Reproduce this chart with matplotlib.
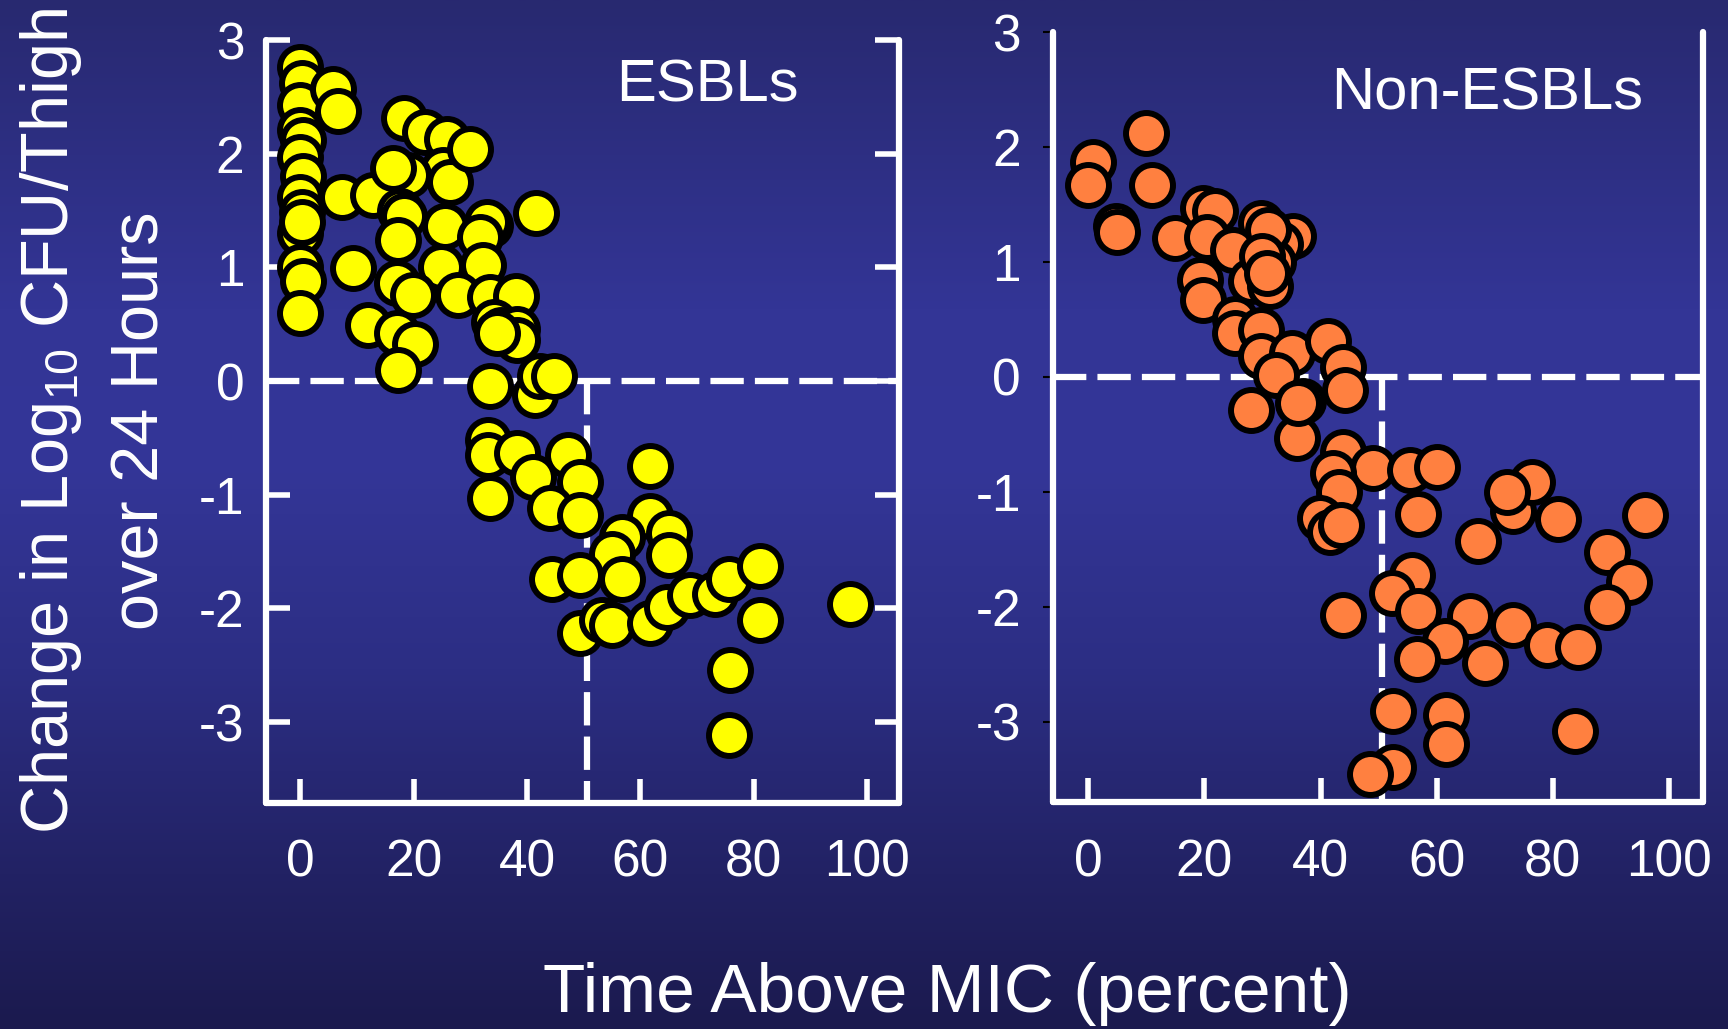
"""
Time above MIC vs change in log10 CFU/thigh, ESBL and non-ESBL strains.
"""
import numpy as np
import matplotlib
matplotlib.use('Agg')
import matplotlib.pyplot as plt

plt.rcParams['font.family'] = ['Liberation Sans', 'DejaVu Sans']
plt.rcParams['axes.unicode_minus'] = False
plt.rcParams['lines.scale_dashes'] = False

# ESBL strains (yellow)
esbl_x = [0, 0.3, 0, 5.8, 6.7, 0, 0.5, 0, 0.4, 0, 0.2, 0, 0.3, 0, 0.5, 0,
          7.3, 12.9, 9.2, 12.0,
          18.2, 22.0, 25.8, 25.2, 26.4, 29.9, 19.0, 16.4, 17.6, 18.2, 17.3,
          25.5, 33.5, 32.9, 31.7, 41.6, 24.9, 32.3, 17.0, 19.9, 17.0, 20.2,
          17.3, 27.9, 33.5, 38.0, 34.1, 35.5, 38.2, 38.2, 34.7, 33.5, 41.4,
          42.3, 44.7,
          33.2, 33.2, 38.2, 47.3, 41.1, 49.4, 33.5, 44.1, 49.4, 61.7, 61.7,
          56.7, 55.0, 56.7, 65.0, 65.0, 44.4, 49.4, 49.4, 53.2, 55.0, 61.7,
          64.7, 68.8, 73.2, 75.6, 81.2, 81.2, 75.9, 75.6, 97.1]
esbl_y = [2.76, 2.62, 2.43, 2.57, 2.38, 2.21, 2.12, 1.97, 1.80, 1.62, 1.49,
          1.30, 1.40, 1.00, 0.88, 0.60,
          1.62, 1.64, 0.99, 0.49,
          2.31, 2.19, 2.13, 1.86, 1.75, 2.04, 1.81, 1.87, 1.50, 1.45, 1.24,
          1.36, 1.37, 1.40, 1.27, 1.48, 1.00, 1.02, 0.86, 0.76, 0.42, 0.33,
          0.10, 0.76, 0.74, 0.75, 0.52, 0.45, 0.46, 0.36, 0.42, -0.04, -0.12,
          0.04, 0.04,
          -0.52, -0.65, -0.63, -0.65, -0.84, -0.89, -1.03, -1.12, -1.18,
          -0.75, -1.19, -1.37, -1.52, -1.74, -1.34, -1.53, -1.74, -1.71,
          -2.22, -2.10, -2.15, -2.13, -1.99, -1.88, -1.87, -1.74, -1.63,
          -2.10, -2.54, -3.11, -1.96]

# non-ESBL strains (orange)
non_x = [10.0, 0.8, 0, 10.9, 4.8, 5.0, 15.0, 19.8, 21.8, 20.4, 29.8, 35.3,
         33.0, 24.9, 31.8, 19.2, 19.8, 28.1, 31.3, 25.2, 25.2, 29.8, 29.8,
         35.0, 41.3, 43.9, 44.2, 32.4, 37.0, 28.1, 35.9, 43.9, 49.1, 55.4,
         60.0, 42.2, 43.1, 39.9, 41.6, 43.6, 56.8, 67.2, 73.2, 76.4, 72.1,
         81.0, 95.9, 89.4, 93.1, 89.4, 55.7, 52.3, 43.9, 56.8, 65.8, 61.4,
         56.6, 68.3, 73.2, 79.0, 84.4, 52.5, 61.7, 61.7, 83.9, 52.5, 48.5,
         31.0, 29.9, 30.8, 36.2]
non_y = [2.12, 1.87, 1.67, 1.67, 1.31, 1.26, 1.21, 1.47, 1.44, 1.22, 1.34,
         1.23, 1.16, 1.10, 1.00, 0.84, 0.67, 0.83, 0.79, 0.50, 0.38, 0.41,
         0.18, 0.21, 0.31, 0.09, -0.11, 0.02, -0.21, -0.29, -0.53, -0.65,
         -0.79, -0.81, -0.78, -0.84, -1.00, -1.23, -1.35, -1.29, -1.19,
         -1.43, -1.17, -0.91, -1.00, -1.24, -1.20, -1.52, -1.78, -2.00,
         -1.72, -1.88, -2.07, -2.04, -2.08, -2.30, -2.45, -2.49, -2.16,
         -2.33, -2.35, -2.91, -2.94, -3.19, -3.08, -3.39, -3.45,
         1.28, 1.05, 0.90, -0.23]

xticks = [0, 20, 40, 60, 80, 100]
yticks = [-3, -2, -1, 0, 1, 2, 3]
cutoff = 50.6  # % time above MIC, vertical dashed line

fig = plt.figure(figsize=(17.28, 10.29), dpi=100)

# slide background, vertical gradient
stops = [0.0, 0.30, 0.45, 0.65, 0.85, 1.0]
cols = np.array([[40, 41, 112], [51, 53, 150], [52, 54, 152],
                 [44, 46, 132], [34, 34, 100], [27, 26, 78]]) / 255
yy = np.linspace(0, 1, 600)
grad = np.stack([np.interp(yy, stops, cols[:, i]) for i in range(3)], axis=-1)
bg = fig.add_axes([0, 0, 1, 1], zorder=-5)
bg.imshow(grad[:, None, :], aspect='auto', extent=[0, 1, 0, 1], origin='upper')
bg.axis('off')

lw = 4.5
ax1 = fig.add_axes([0.1542, 0.2199, 0.5203 - 0.1542, 0.9611 - 0.2199])
ax2 = fig.add_axes([0.6094, 0.2203, 0.9858 - 0.6094, 0.9689 - 0.2203])

for ax, x, y, fc, xl, yl in [(ax1, esbl_x, esbl_y, '#ffff00', (-6.0, 105.7), (-3.71, 3.0)),
                             (ax2, non_x, non_y, '#ff8040', (-6.1, 106.0), (-3.70, 3.0))]:
    ax.set_facecolor('none')
    ax.axhline(0, color='w', lw=lw, dashes=(24, 8), zorder=1)
    ax.plot([cutoff, cutoff], [0, yl[0]], color='w', lw=lw, dashes=(24, 8), zorder=1)
    ax.scatter(x, y, s=870, c=fc, edgecolors='k', linewidths=4.3, zorder=3)
    ax.set_xlim(xl)
    ax.set_ylim(yl)
    ax.set_xticks(xticks)
    ax.set_yticks(yticks)
    ax.spines['top'].set_visible(False)
    for sp in ['left', 'right', 'bottom']:
        ax.spines[sp].set_color('w')
        ax.spines[sp].set_linewidth(lw)
        ax.spines[sp].set_capstyle('round')
    ax.tick_params(axis='x', direction='in', length=17, width=4, color='w',
                   labelsize=37, labelcolor='w', pad=26, top=False)

ax1.tick_params(axis='y', direction='in', length=17, width=4, color='w',
                left=True, right=True, labelsize=37, labelcolor='w', pad=16)
ax2.tick_params(axis='y', direction='out', length=7, width=1.5, color='k',
                right=False, labelsize=37, labelcolor='w', pad=16)

ax1.text(71.9, 2.463, 'ESBLs', ha='center', va='baseline', fontsize=43, color='w')
ax2.text(68.8, 2.322, 'Non-ESBLs', ha='center', va='baseline', fontsize=43, color='w')

fig.text(0.0394, 0.591, r'Change in Log$\mathregular{_{10}}$ CFU/Thigh', rotation=90,
         rotation_mode='anchor', ha='center', va='baseline', fontsize=48, color='w')
fig.text(0.092, 0.591, 'over 24 Hours', rotation=90,
         rotation_mode='anchor', ha='center', va='baseline', fontsize=48, color='w')
fig.text(0.548, 0.0169, 'Time Above MIC (percent)', ha='center', va='baseline',
         fontsize=50, color='w')

plt.savefig('out.png', dpi=100)
